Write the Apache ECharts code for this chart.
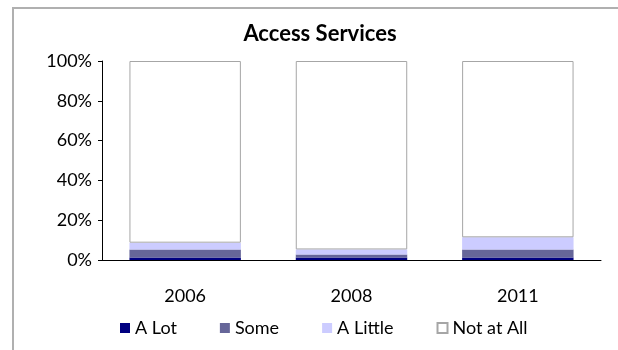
<!DOCTYPE html>
<html>
<head>
<meta charset="utf-8">
<script src="https://cdn.jsdelivr.net/npm/echarts@6/dist/echarts.min.js"></script>
<style>html,body{margin:0;padding:0;background:#fff;}#c{width:618px;height:350px;}</style>
</head>
<body>
<div id="c"></div>
<script>
var title = 'Access Services';
var categories = ['2006', '2008', '2011'];
var seriesNames = ['A Lot', 'Some', 'A Little', 'Not at All'];
var aLot = [1.3, 1.3, 1.3];
var some = [4.0, 1.5, 4.0];
var aLittle = [3.4, 2.5, 6.1];
var notAtAll = [91.3, 94.7, 88.6];
var yTicks = [0, 20, 40, 60, 80, 100];

var FONT = 'Lato, Carlito, "Open Sans", sans-serif';
var colors = ['#000080', '#666699', '#CCCCFF', '#FFFFFF'];
var values = [aLot, some, aLittle, notAtAll];

var chart = echarts.init(document.getElementById('c'), null, {renderer: 'canvas'});
var series = seriesNames.map(function (n, i) {
  return {
    name: n,
    type: 'bar',
    stack: 'total',
    barCategoryGap: '33%',
    data: values[i],
    itemStyle: i === 3 ? {color: colors[i], borderColor: '#a6a6a6', borderWidth: 1} : {color: colors[i]},
    emphasis: {disabled: true}
  };
});

chart.setOption({
  animation: false,
  backgroundColor: '#fff',
  title: {
    text: title, left: 315, top: 18, textAlign: 'center',
    textStyle: {fontFamily: FONT, fontSize: 22, fontWeight: 'bold', color: '#000'}
  },
  graphic: [{
    type: 'rect', shape: {x: 13, y: 8, width: 620, height: 360},
    style: {fill: 'none', stroke: '#b0b0b0', lineWidth: 2}, silent: true, z: 100
  }],
  legend: {
    data: seriesNames, bottom: 8, left: 115, itemWidth: 10, itemHeight: 10, itemGap: 43,
    icon: 'rect',
    textStyle: {fontFamily: FONT, fontSize: 18, color: '#000'}
  },
  grid: {left: 102, right: 17, top: 61, bottom: 90, containLabel: false},
  xAxis: {
    type: 'category', data: categories,
    axisLine: {lineStyle: {color: '#000', width: 1}},
    axisTick: {show: false},
    axisLabel: {fontFamily: FONT, fontSize: 18, color: '#000', margin: 27}
  },
  yAxis: {
    type: 'value', min: 0, max: 100, interval: 20,
    axisLine: {show: true, lineStyle: {color: '#000', width: 1}},
    axisTick: {show: true, inside: false, length: 4, lineStyle: {color: '#000'}},
    splitLine: {show: false},
    axisLabel: {fontFamily: FONT, fontSize: 18, color: '#000', margin: 10,
      formatter: function (v) { return yTicks.indexOf(v) >= 0 ? v + '%' : ''; }}
  },
  series: series
});
</script>
</body>
</html>
